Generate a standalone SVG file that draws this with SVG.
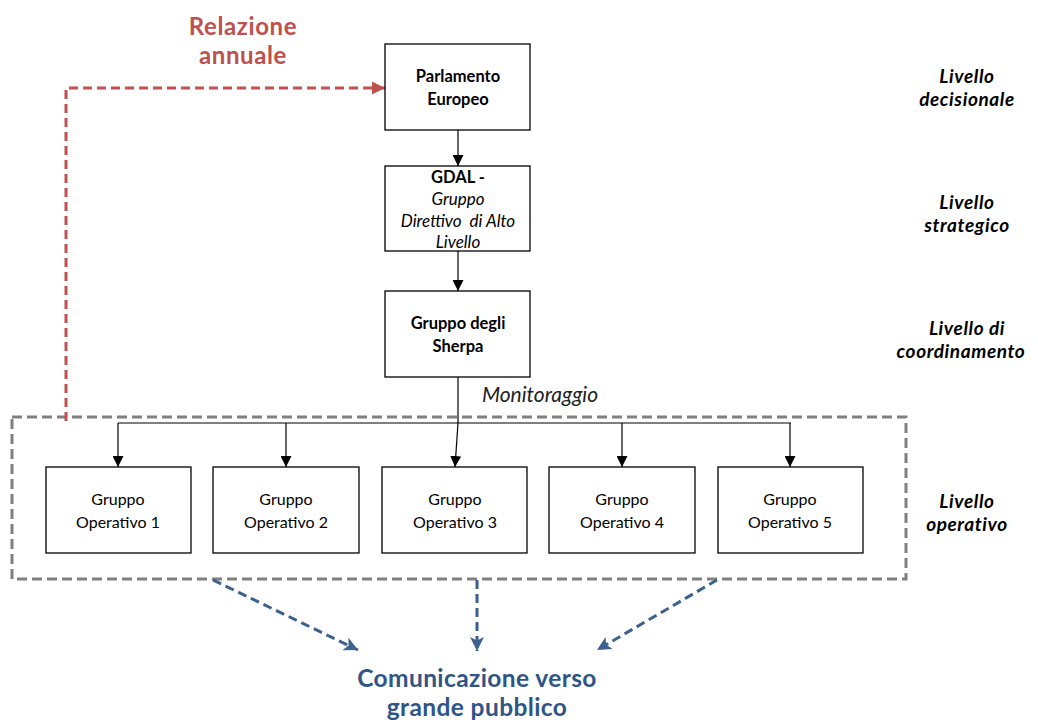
<svg xmlns="http://www.w3.org/2000/svg" width="1038" height="720" viewBox="0 0 1038 720">
<style>
text{font-family:Lato,"Open Sans","Liberation Sans",sans-serif;text-anchor:middle;white-space:pre}
.box{fill:#fff;stroke:#000;stroke-width:1.3}
.bt{font-size:16.5px;font-weight:bold;fill:#000}
.bi{font-size:17px;font-style:italic;fill:#000}
.rt{font-size:16px;fill:#000}
.lv{font-size:19px;font-weight:bold;font-style:italic;fill:#000;letter-spacing:0.6px}
.rel{font-size:24px;font-weight:bold;fill:#c0504d;letter-spacing:0.6px}
.com{font-size:24.5px;font-weight:bold;fill:#2f5587;letter-spacing:0.4px}
.ln{fill:none;stroke:#000;stroke-width:1.2}
.red{fill:none;stroke:#c0504d;stroke-width:3;stroke-dasharray:9,5}
.blue{fill:none;stroke:#3b6191;stroke-width:3;stroke-dasharray:9,5}
</style>
<defs>
<marker id="ab" viewBox="0 0 10 10" refX="10" refY="5" markerWidth="11" markerHeight="11" markerUnits="userSpaceOnUse" orient="auto"><path d="M0,0L10,5L0,10Z" fill="#000"/></marker>
<marker id="ar" viewBox="0 0 10 10" refX="10" refY="5" markerWidth="13" markerHeight="13" markerUnits="userSpaceOnUse" orient="auto"><path d="M0,0L10,5L0,10Z" fill="#c0504d"/></marker>
<marker id="au" viewBox="0 0 10 10" refX="10" refY="5" markerWidth="14" markerHeight="14" markerUnits="userSpaceOnUse" orient="auto"><path d="M0,0L10,5L0,10L2.5,5Z" fill="#3b6191"/></marker>
</defs>
<g id="container">
<rect x="12" y="417" width="894" height="162" fill="none" stroke="#808080" stroke-width="3" stroke-dasharray="10,5"/>
</g>
<g id="connectors">
<path class="ln" d="M458,130V166" marker-end="url(#ab)"/>
<path class="ln" d="M458,251V291" marker-end="url(#ab)"/>
<path class="ln" d="M458,377V423" stroke-width="1.8"/>
<path class="ln" d="M118,423H791"/>
<path class="ln" d="M118,423V467" marker-end="url(#ab)"/>
<path class="ln" d="M286,423V467" marker-end="url(#ab)"/>
<path class="ln" d="M458,423L455,467" marker-end="url(#ab)"/>
<path class="ln" d="M622,423V467" marker-end="url(#ab)"/>
<path class="ln" d="M790,423V467" marker-end="url(#ab)"/>
<path class="red" d="M66,421V88H385" marker-end="url(#ar)"/>
<path class="blue" d="M213,580L358,650" marker-end="url(#au)"/>
<path class="blue" d="M477,580V651" marker-end="url(#au)"/>
<path class="blue" d="M717,580L597,650" marker-end="url(#au)"/>
</g>
<g id="parlamento">
<rect class="box" x="385" y="44" width="145" height="86"/>
<text class="bt" x="458" y="82">Parlamento</text>
<text class="bt" x="458" y="105">Europeo</text>
</g>
<g id="gdal">
<rect class="box" x="385" y="166" width="145" height="85"/>
<text class="bt" x="458" y="183">GDAL -</text>
<text class="bi" x="458" y="205">Gruppo</text>
<text class="bi" x="458" y="227">Direttivo  di Alto</text>
<text class="bi" x="458" y="248">Livello</text>
</g>
<g id="sherpa">
<rect class="box" x="385" y="291" width="145" height="86"/>
<text class="bt" x="458" y="329">Gruppo degli</text>
<text class="bt" x="458" y="352">Sherpa</text>
</g>
<g id="go1">
<rect class="box" x="46" y="467" width="145" height="86"/>
<text class="rt" x="118" y="505">Gruppo</text>
<text class="rt" x="118" y="528">Operativo 1</text>
</g>
<g id="go2">
<rect class="box" x="213" y="467" width="146" height="86"/>
<text class="rt" x="286" y="505">Gruppo</text>
<text class="rt" x="286" y="528">Operativo 2</text>
</g>
<g id="go3">
<rect class="box" x="382" y="467" width="145" height="86"/>
<text class="rt" x="455" y="505">Gruppo</text>
<text class="rt" x="455" y="528">Operativo 3</text>
</g>
<g id="go4">
<rect class="box" x="549" y="467" width="146" height="86"/>
<text class="rt" x="622" y="505">Gruppo</text>
<text class="rt" x="622" y="528">Operativo 4</text>
</g>
<g id="go5">
<rect class="box" x="718" y="467" width="145" height="86"/>
<text class="rt" x="790" y="505">Gruppo</text>
<text class="rt" x="790" y="528">Operativo 5</text>
</g>
<g id="labels">
<text class="rel" x="243" y="35">Relazione</text>
<text class="rel" x="243" y="64">annuale</text>
<text x="540" y="402" font-size="21" font-style="italic" fill="#222">Monitoraggio</text>
<text class="com" x="477" y="687">Comunicazione verso</text>
<text class="com" x="477" y="716">grande pubblico</text>
<text class="lv" x="967" y="83">Livello</text>
<text class="lv" x="967" y="106">decisionale</text>
<text class="lv" x="967" y="209">Livello</text>
<text class="lv" x="967" y="232">strategico</text>
<text class="lv" x="967" y="335">Livello di</text>
<text class="lv" x="961" y="358">coordinamento</text>
<text class="lv" x="967" y="508">Livello</text>
<text class="lv" x="967" y="531">operativo</text>
</g>
</svg>
